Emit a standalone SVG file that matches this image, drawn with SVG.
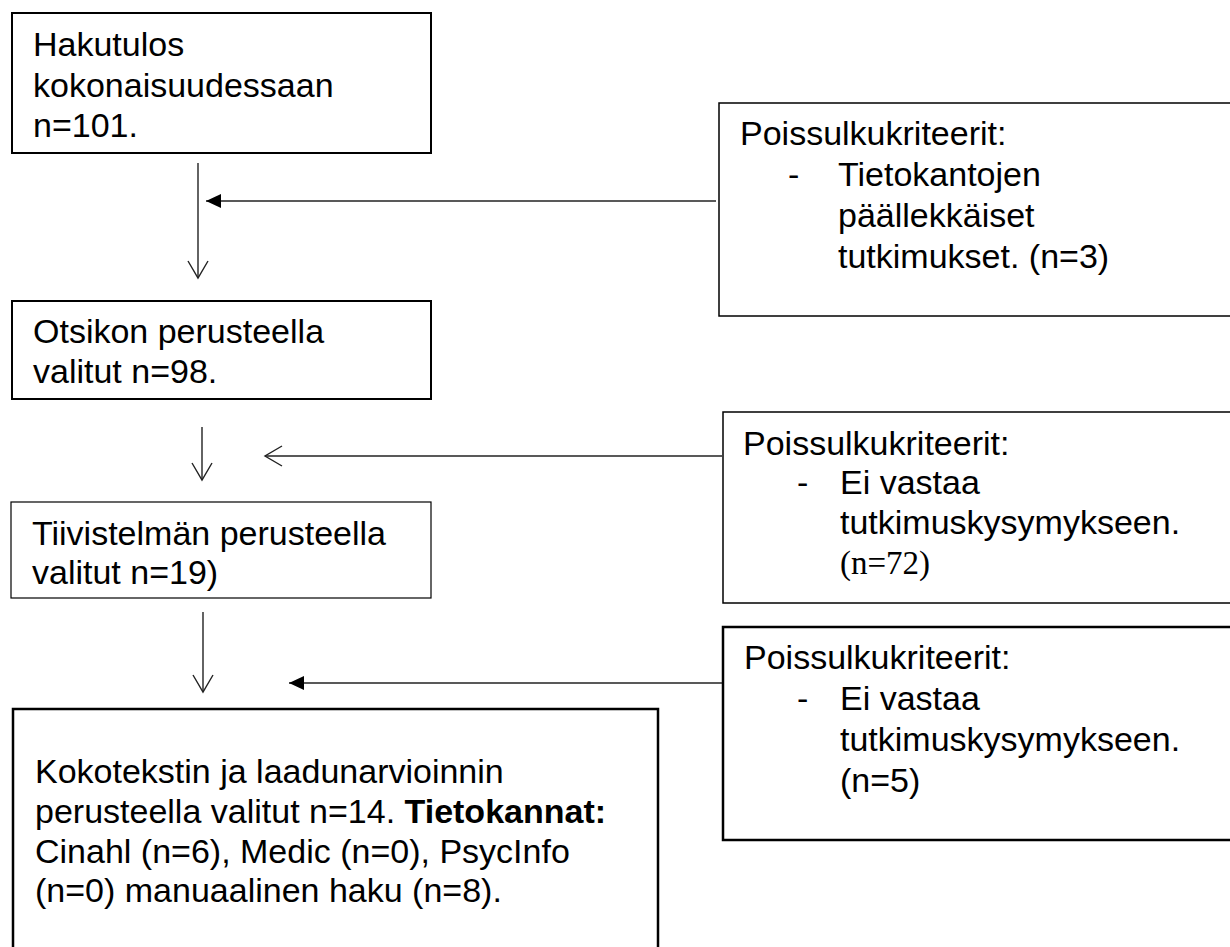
<svg xmlns="http://www.w3.org/2000/svg" width="1230" height="947" viewBox="0 0 1230 947">
  <style>
    .box { fill: #ffffff; stroke: #000000; }
    .t { font-family: "Liberation Sans", Arial, sans-serif; font-size: 34px; fill: #000000; }
    .ts { font-family: "Liberation Serif", "Times New Roman", serif; font-size: 33px; fill: #000000; }
    .b { font-weight: bold; }
    .conn { fill: none; stroke: #222222; stroke-width: 1.4; }
  </style>
  <defs>
    <marker id="open" markerUnits="userSpaceOnUse" markerWidth="40" markerHeight="40" refX="0" refY="0" orient="auto" viewBox="-20 -20 40 40" overflow="visible">
      <path d="M-17,-10 L0,0 L-17,10" fill="none" stroke="#222222" stroke-width="1.4"/>
    </marker>
    <marker id="solid" markerUnits="userSpaceOnUse" markerWidth="40" markerHeight="40" refX="0" refY="0" orient="auto" viewBox="-20 -20 40 40" overflow="visible">
      <path d="M-15,-7 L0,0 L-15,7 Z" fill="#000000" stroke="none"/>
    </marker>
  </defs>
  <rect width="1230" height="947" fill="#ffffff"/>

  <g id="box-hakutulos">
    <rect class="box" x="12" y="13" width="419" height="140" stroke-width="2"/>
    <text class="t" x="33" y="56">Hakutulos</text>
    <text class="t" x="33" y="97">kokonaisuudessaan</text>
    <text class="t" x="33" y="137">n=101.</text>
  </g>

  <g id="box-otsikko">
    <rect class="box" x="12" y="301" width="419" height="98" stroke-width="2"/>
    <text class="t" x="33" y="343">Otsikon perusteella</text>
    <text class="t" x="33" y="383">valitut n=98.</text>
  </g>

  <g id="box-tiivistelma">
    <rect class="box" x="11" y="502" width="420" height="96" stroke-width="1.2"/>
    <text class="t" x="32" y="545">Tiivistelmän perusteella</text>
    <text class="t" x="32" y="584">valitut n=19)</text>
  </g>

  <g id="box-kokoteksti">
    <rect class="box" x="13" y="709" width="645" height="260" stroke-width="2.5"/>
    <text class="t" x="35" y="783">Kokotekstin ja laadunarvioinnin</text>
    <text class="t" x="35" y="823">perusteella valitut n=14. <tspan class="b">Tietokannat:</tspan></text>
    <text class="t" x="35" y="863">Cinahl (n=6), Medic (n=0), PsycInfo</text>
    <text class="t" x="35" y="902">(n=0) manuaalinen haku (n=8).</text>
  </g>

  <g id="box-poissulku-1">
    <rect class="box" x="719" y="103" width="600" height="213" stroke-width="1.5"/>
    <text class="t" x="740" y="145">Poissulkukriteerit:</text>
    <text class="t" x="788" y="186">-</text>
    <text class="t" x="838" y="186">Tietokantojen</text>
    <text class="t" x="838" y="227">päällekkäiset</text>
    <text class="t" x="838" y="268">tutkimukset. (n=3)</text>
  </g>

  <g id="box-poissulku-2">
    <rect class="box" x="723" y="412" width="600" height="191" stroke-width="1.5"/>
    <text class="t" x="743" y="455">Poissulkukriteerit:</text>
    <text class="t" x="797" y="494">-</text>
    <text class="t" x="840" y="494">Ei vastaa</text>
    <text class="t" x="840" y="534">tutkimuskysymykseen.</text>
    <text class="ts" x="840" y="574">(n=72)</text>
  </g>

  <g id="box-poissulku-3">
    <rect class="box" x="723" y="627" width="600" height="213" stroke-width="2.5"/>
    <text class="t" x="744" y="669">Poissulkukriteerit:</text>
    <text class="t" x="797" y="710">-</text>
    <text class="t" x="840" y="710">Ei vastaa</text>
    <text class="t" x="840" y="751">tutkimuskysymykseen.</text>
    <text class="t" x="840" y="792">(n=5)</text>
  </g>

  <g id="connectors">
    <line class="conn" x1="198" y1="163" x2="198" y2="278" marker-end="url(#open)"/>
    <line class="conn" x1="716" y1="201" x2="206" y2="201" marker-end="url(#solid)"/>
    <line class="conn" x1="202" y1="427" x2="202" y2="480" marker-end="url(#open)"/>
    <line class="conn" x1="722" y1="456" x2="265" y2="456" marker-end="url(#open)"/>
    <line class="conn" x1="203" y1="612" x2="203" y2="692" marker-end="url(#open)"/>
    <line class="conn" x1="722" y1="683" x2="289" y2="683" marker-end="url(#solid)"/>
  </g>
</svg>
